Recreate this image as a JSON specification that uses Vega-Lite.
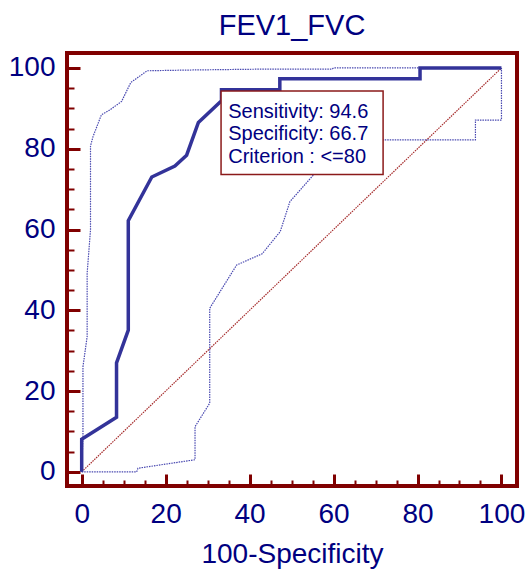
{
  "$schema": "https://vega.github.io/schema/vega-lite/v6.json",
  "autosize": "none",
  "width": 450,
  "height": 433,
  "padding": {"left": 67, "top": 53, "right": 10, "bottom": 84},
  "background": "white",
  "config": {
    "view": {"stroke": "#800000", "strokeWidth": 4},
    "font": "Liberation Sans"
  },
  "title": {"text": "FEV1_FVC", "fontSize": 29, "font": "Liberation Sans", "fontWeight": "normal", "color": "#000080", "offset": 12},
  "encoding": {
    "x": {
      "field": "x", "type": "quantitative",
      "scale": {"domain": [-3.5, 103.7], "nice": false, "zero": false},
      "axis": {
        "values": [0,5,10,15,20,25,30,35,40,45,50,55,60,65,70,75,80,85,90,95,100],
        "domain": false, "grid": false,
        "tickColor": "#800000",
        "tickSize": {"condition": {"test": "datum.value % 20 === 0", "value": -12}, "value": -6},
        "tickWidth": {"condition": {"test": "datum.value % 20 === 0", "value": 3}, "value": 2},
        "labelExpr": "datum.value % 20 === 0 ? datum.label : ''",
        "labelOverlap": false, "labelFlush": false,
        "labelFont": "Liberation Sans", "labelFontSize": 28, "labelColor": "#000080",
        "labelPadding": 26,
        "title": "100-Specificity", "titleFont": "Liberation Sans", "titleFontSize": 28,
        "titleFontWeight": "normal", "titleColor": "#000080", "titlePadding": 6
      }
    },
    "y": {
      "field": "y", "type": "quantitative",
      "scale": {"domain": [-3.5, 103.7], "nice": false, "zero": false},
      "axis": {
        "values": [0,5,10,15,20,25,30,35,40,45,50,55,60,65,70,75,80,85,90,95,100],
        "domain": false, "grid": false,
        "tickColor": "#800000",
        "tickSize": {"condition": {"test": "datum.value % 20 === 0", "value": -13}, "value": -7},
        "tickWidth": {"condition": {"test": "datum.value % 20 === 0", "value": 3}, "value": 2},
        "labelExpr": "datum.value % 20 === 0 ? datum.label : ''",
        "labelOverlap": false, "labelFlush": false,
        "labelFont": "Liberation Sans", "labelFontSize": 28, "labelColor": "#000080",
        "labelPadding": 25,
        "title": null
      }
    }
  },
  "layer": [
    {
      "data": {"values": [{"i": 0, "x": 0, "y": 0}, {"i": 1, "x": 100, "y": 100}]},
      "mark": {"type": "line", "color": "#a52a2a", "strokeWidth": 1.2, "strokeDash": [1.5, 1]},
      "encoding": {"order": {"field": "i", "type": "quantitative"}}
    },
    {
      "data": {"values": [
        {"i": 0, "x": 0, "y": 0}, {"i": 1, "x": 0.3, "y": 8.7}, {"i": 2, "x": 0.3, "y": 26},
        {"i": 3, "x": 1.3, "y": 33.5}, {"i": 4, "x": 1.3, "y": 49.2}, {"i": 5, "x": 2.1, "y": 59.9},
        {"i": 6, "x": 2.1, "y": 80.7}, {"i": 7, "x": 2.7, "y": 83}, {"i": 8, "x": 4.7, "y": 88.4},
        {"i": 9, "x": 6.7, "y": 89.6}, {"i": 10, "x": 9.5, "y": 91.7}, {"i": 11, "x": 11.7, "y": 96.4},
        {"i": 12, "x": 15.6, "y": 99.3}, {"i": 13, "x": 26.6, "y": 99.5}, {"i": 14, "x": 42.5, "y": 99.7},
        {"i": 15, "x": 59.6, "y": 99.7}, {"i": 16, "x": 60, "y": 100}, {"i": 17, "x": 100, "y": 100}
      ]},
      "mark": {"type": "line", "color": "#4848b0", "strokeWidth": 1.2, "strokeDash": [1.5, 1]},
      "encoding": {"order": {"field": "i", "type": "quantitative"}}
    },
    {
      "data": {"values": [
        {"i": 0, "x": 0, "y": 0}, {"i": 1, "x": 13.1, "y": 0}, {"i": 2, "x": 13.4, "y": 0.9},
        {"i": 3, "x": 27, "y": 3}, {"i": 4, "x": 27, "y": 11.2}, {"i": 5, "x": 30.5, "y": 17},
        {"i": 6, "x": 30.5, "y": 40.5}, {"i": 7, "x": 36.9, "y": 51.2}, {"i": 8, "x": 43, "y": 54},
        {"i": 9, "x": 47.3, "y": 59.5}, {"i": 10, "x": 49.6, "y": 66.9}, {"i": 11, "x": 55.2, "y": 73.5},
        {"i": 12, "x": 58, "y": 78}, {"i": 13, "x": 62, "y": 82.2}, {"i": 14, "x": 93.8, "y": 82.2},
        {"i": 15, "x": 93.8, "y": 87.1}, {"i": 16, "x": 100, "y": 87.1}, {"i": 17, "x": 100, "y": 100}
      ]},
      "mark": {"type": "line", "color": "#4848b0", "strokeWidth": 1.2, "strokeDash": [1.5, 1]},
      "encoding": {"order": {"field": "i", "type": "quantitative"}}
    },
    {
      "data": {"values": [
        {"i": 0, "x": 0, "y": 0}, {"i": 1, "x": 0, "y": 8.1}, {"i": 2, "x": 8.3, "y": 13.5},
        {"i": 3, "x": 8.3, "y": 27.0}, {"i": 4, "x": 11.1, "y": 35.1}, {"i": 5, "x": 11.1, "y": 62.2},
        {"i": 6, "x": 16.7, "y": 73.0}, {"i": 7, "x": 22.2, "y": 75.7}, {"i": 8, "x": 25.0, "y": 78.4},
        {"i": 9, "x": 27.8, "y": 86.5}, {"i": 10, "x": 33.3, "y": 91.9}, {"i": 11, "x": 33.3, "y": 94.6},
        {"i": 12, "x": 47.2, "y": 94.6}, {"i": 13, "x": 47.2, "y": 97.3}, {"i": 14, "x": 80.6, "y": 97.3},
        {"i": 15, "x": 80.6, "y": 100}, {"i": 16, "x": 100, "y": 100}
      ]},
      "mark": {"type": "line", "color": "#333399", "strokeWidth": 3.5, "strokeJoin": "miter"},
      "encoding": {"order": {"field": "i", "type": "quantitative"}}
    },
    {
      "data": {"values": [{"x": 33.2, "x2": 71.8, "y": 94.3, "y2": 73.6}]},
      "mark": {"type": "rect", "fill": "white", "stroke": "#8b1a1a", "strokeWidth": 1.5},
      "encoding": {"x2": {"field": "x2"}, "y2": {"field": "y2"}}
    },
    {
      "data": {"values": [
        {"x": 34.9, "y": 87.7, "label": "Sensitivity: 94.6"},
        {"x": 34.9, "y": 82.1, "label": "Specificity: 66.7"},
        {"x": 34.9, "y": 76.4, "label": "Criterion : <=80"}
      ]},
      "mark": {"type": "text", "align": "left", "baseline": "alphabetic", "fontSize": 20, "font": "Liberation Sans", "color": "#000080"},
      "encoding": {"text": {"field": "label"}}
    }
  ]
}
